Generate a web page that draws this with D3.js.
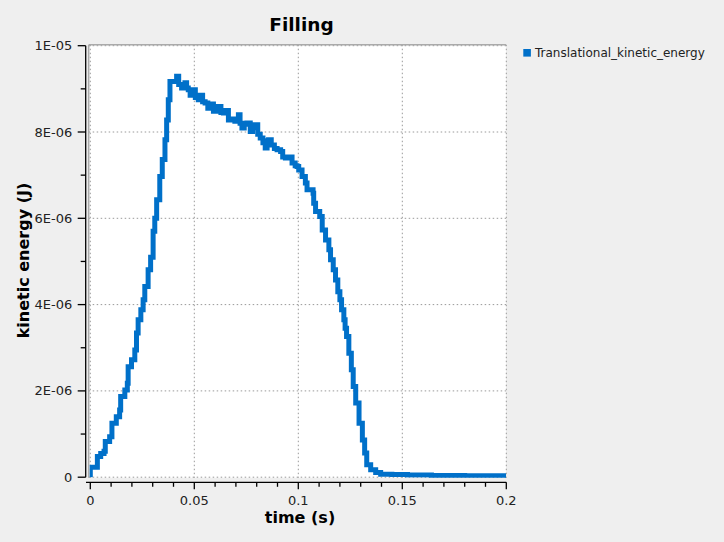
<!DOCTYPE html>
<html><head><meta charset="utf-8">
<script src="https://cdn.jsdelivr.net/npm/d3@7/dist/d3.min.js"></script>
<style>
html,body{margin:0;padding:0;background:#efefef;}
svg{display:block;font-family:"DejaVu Sans",sans-serif;}
</style></head>
<body>
<svg id="chart" width="724" height="542"></svg>
<script>
const title = "Filling";
const xLabel = "time (s)";
const yLabel = "kinetic energy (J)";
const seriesName = "Translational_kinetic_energy";
const xTicks = [0, 0.05, 0.1, 0.15, 0.2];
const xTickLabels = ["0", "0.05", "0.1", "0.15", "0.2"];
const yTicks = [0, 2e-6, 4e-6, 6e-6, 8e-6, 1e-5];
const yTickLabels = ["0", "2E-06", "4E-06", "6E-06", "8E-06", "1E-05"];
const time = [0,0,0.0034,0.0050,0.0066,0.0072,0.0093,0.0104,0.0125,0.0141,0.0146,0.0166,0.0178,0.0182,0.0198,0.0214,0.0222,0.0230,0.0243,0.0254,0.0262,0.0278,0.0290,0.0302,0.0310,0.0319,0.0334,0.0346,0.0359,0.0367,0.0375,0.0383,0.0407,0.0415,0.0425,0.0439,0.0447,0.0455,0.0463,0.0471,0.0480,0.0487,0.0495,0.0505,0.0519,0.0528,0.0540,0.0552,0.0565,0.0575,0.0592,0.0605,0.0616,0.0628,0.0640,0.0652,0.0664,0.0680,0.0695,0.0712,0.0720,0.0729,0.0740,0.0753,0.0769,0.0780,0.0793,0.0805,0.0817,0.0830,0.0841,0.0850,0.0857,0.0870,0.0885,0.0898,0.0915,0.0925,0.0938,0.0955,0.0970,0.0985,0.0994,0.1002,0.1018,0.1034,0.1042,0.1071,0.1074,0.1083,0.1103,0.1115,0.1131,0.1147,0.1155,0.1168,0.1179,0.1190,0.1200,0.1208,0.1219,0.1225,0.1232,0.1243,0.1255,0.1264,0.1276,0.1292,0.1308,0.1319,0.1329,0.1348,0.1372,0.1396,0.1450,0.1525,0.1640,0.1800,0.2000];
const energyMicro = [0,0.23,0.48,0.55,0.60,0.83,0.94,1.25,1.40,1.56,1.87,2.02,2.18,2.56,2.72,2.95,3.34,3.65,3.88,4.11,4.42,4.81,5.10,5.70,6.00,6.43,6.97,7.36,7.82,8.28,8.75,9.17,9.17,9.29,9.10,9.02,9.10,9.14,9.02,8.98,8.85,8.92,8.98,8.80,8.75,8.85,8.70,8.67,8.55,8.65,8.48,8.52,8.59,8.45,8.44,8.50,8.28,8.30,8.25,8.40,8.20,8.09,8.18,8.21,8.01,8.10,8.17,7.95,7.86,7.75,7.63,7.80,7.82,7.70,7.62,7.59,7.55,7.42,7.40,7.42,7.28,7.22,7.20,7.12,6.97,6.82,6.66,6.58,6.35,6.16,6.04,5.73,5.50,5.27,5.04,4.81,4.57,4.30,4.11,3.88,3.65,3.45,3.26,2.87,2.49,2.10,1.72,1.25,0.86,0.56,0.29,0.17,0.11,0.07,0.06,0.05,0.04,0.035,0.03];

const data = time.map((t, i) => ({t, e: energyMicro[i] * 1e-6}));
const svg = d3.select("#chart");
const x = d3.scaleLinear().domain([0, 0.2]).range([90.3, 506.3]);
const y = d3.scaleLinear().domain([0, 1e-5]).range([477.2, 45.7]);
const L = 88.7, R = 506, T = 44.7, B = 477.8;

svg.append("rect").attr("x", L).attr("y", T).attr("width", R - L).attr("height", B - T).attr("fill", "#fff");

const grid = svg.append("g").attr("stroke", "#999").attr("stroke-dasharray", "1.5,2.5").attr("stroke-width", 1);
xTicks.forEach(v => grid.append("line").attr("x1", x(v)).attr("x2", x(v)).attr("y1", T).attr("y2", B));
yTicks.forEach(v => grid.append("line").attr("x1", L).attr("x2", R).attr("y1", y(v)).attr("y2", y(v)));

svg.append("line").attr("x1", L).attr("x2", R).attr("y1", T).attr("y2", T).attr("stroke", "#aaa").attr("stroke-width", 1.5);
svg.append("line").attr("x1", L).attr("x2", L).attr("y1", T).attr("y2", B).attr("stroke", "#aaa").attr("stroke-width", 1.5);

svg.append("clipPath").attr("id", "clip").append("rect").attr("x", L + 1).attr("y", T).attr("width", R - L - 1).attr("height", B - T);

const line = d3.line().x(d => x(d.t)).y(d => y(d.e)).curve(d3.curveStepAfter);
svg.append("path").datum(data).attr("clip-path", "url(#clip)")
  .attr("d", line).attr("fill", "none").attr("stroke", "#0070c9").attr("stroke-width", 5).attr("stroke-linejoin", "miter");

const yg = svg.append("g").attr("transform", "translate(85.7,0)");
yg.append("line").attr("x1", 0).attr("x2", 0).attr("y1", y(1e-5)).attr("y2", y(0)).attr("stroke", "#000").attr("stroke-width", 1.3);
d3.range(0, 11).forEach(i => {
  const v = i * 1e-6, major = i % 2 === 0;
  yg.append("line").attr("x1", major ? -8 : -5).attr("x2", 0).attr("y1", y(v)).attr("y2", y(v)).attr("stroke", "#000").attr("stroke-width", 1.3);
});
yTicks.forEach((v, i) => yg.append("text").attr("x", -13.5).attr("y", y(v)).attr("dy", "0.35em").attr("text-anchor", "end")
  .attr("font-size", 13).attr("fill", "#222").text(yTickLabels[i]));

const xg = svg.append("g").attr("transform", "translate(0,482.3)");
xg.append("line").attr("x1", 86).attr("x2", x(0.2)).attr("y1", 0).attr("y2", 0).attr("stroke", "#000").attr("stroke-width", 1.3);
d3.range(0, 21).forEach(i => {
  const v = i * 0.01, major = i % 5 === 0;
  xg.append("line").attr("x1", x(v)).attr("x2", x(v)).attr("y1", 0).attr("y2", major ? 7 : 4.5).attr("stroke", "#000").attr("stroke-width", 1.3);
});
xTicks.forEach((v, i) => xg.append("text").attr("x", x(v)).attr("y", 18).attr("dy", "0.35em").attr("text-anchor", "middle")
  .attr("font-size", 13).attr("fill", "#222").text(xTickLabels[i]));

svg.append("text").attr("x", 301.5).attr("y", 31).attr("text-anchor", "middle").attr("font-size", 18.5).attr("font-weight", "bold").attr("fill", "#000").text(title);
svg.append("text").attr("x", 300).attr("y", 523).attr("text-anchor", "middle").attr("font-size", 16).attr("font-weight", "bold").attr("fill", "#000").text(xLabel);
svg.append("text").attr("transform", "translate(28.5,260.5) rotate(-90)").attr("text-anchor", "middle").attr("font-size", 16).attr("font-weight", "bold").attr("fill", "#000").text(yLabel);

svg.append("rect").attr("x", 523.3).attr("y", 49).attr("width", 7.6).attr("height", 7.6).attr("fill", "#0070c9");
svg.append("text").attr("x", 535).attr("y", 53).attr("dy", "0.35em").attr("font-size", 12).attr("fill", "#222").text(seriesName);
</script>
</body></html>
